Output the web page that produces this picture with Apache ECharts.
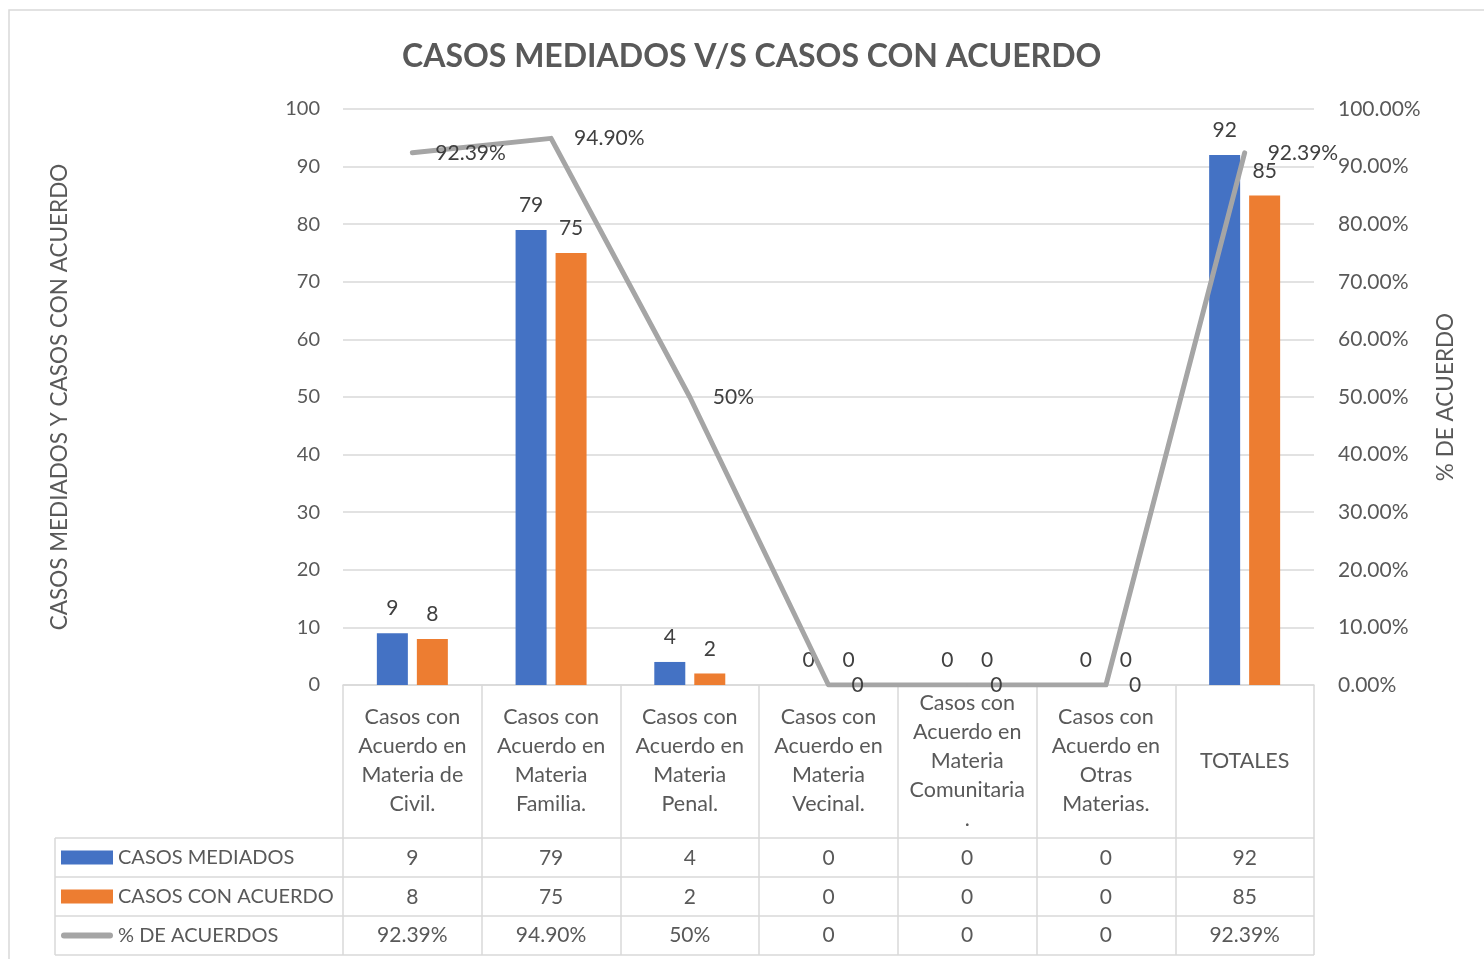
<!DOCTYPE html>
<html>
<head>
<meta charset="utf-8">
<script src="https://cdn.jsdelivr.net/npm/echarts@6/dist/echarts.min.js"></script>
<style>
  html, body { margin: 0; padding: 0; background: #fff; }
  #chart { width: 1484px; height: 959px; }
</style>
</head>
<body>
<div id="chart"></div>
<script>
const categories = [
  'Casos con\nAcuerdo en\nMateria de\nCivil.',
  'Casos con\nAcuerdo en\nMateria\nFamilia.',
  'Casos con\nAcuerdo en\nMateria\nPenal.',
  'Casos con\nAcuerdo en\nMateria\nVecinal.',
  'Casos con\nAcuerdo en\nMateria\nComunitaria\n.',
  'Casos con\nAcuerdo en\nOtras\nMaterias.',
  'TOTALES',
];
const casosMediados = [9, 79, 4, 0, 0, 0, 92];
const casosAcuerdo = [8, 75, 2, 0, 0, 0, 85];
const pctAcuerdos = [0.9239, 0.949, 0.5, 0, 0, 0, 0.9239];
const pctText = ['92.39%', '94.90%', '50%', '0', '0', '0', '92.39%'];

const FONT = 'Lato, "Open Sans", sans-serif';
const TEXT = '#595959';
const LABEL = '#404040';
const LINE = '#D9D9D9';

// layout of plot area + data table
const gridLeft = 343, gridRight = 1314, gridTop = 109, gridBottom = 685;
const tableLeft = 55;
const rowLines = [838, 877, 916, 955];

const chart = echarts.init(document.getElementById('chart'));

function rowAxis(values, centerY) {
  return {
    type: 'category',
    gridIndex: 0,
    position: 'bottom',
    offset: centerY - gridBottom,
    data: values.map(String),
    axisLine: { show: false },
    axisTick: { show: false },
    axisLabel: {
      interval: 0, margin: 0, verticalAlign: 'middle',
      fontFamily: FONT, fontSize: 21, color: TEXT,
    },
  };
}

const tableLines = rowLines.map((y) => ({
  type: 'line',
  shape: { x1: tableLeft, y1: y, x2: gridRight, y2: y },
  style: { stroke: LINE, lineWidth: 1.5 },
}));
tableLines.push({
  type: 'line',
  shape: { x1: tableLeft, y1: rowLines[0], x2: tableLeft, y2: rowLines[3] },
  style: { stroke: LINE, lineWidth: 1.5 },
});

chart.setOption({
  animation: false,
  textStyle: { fontFamily: FONT },
  title: {
    text: 'CASOS MEDIADOS V/S CASOS CON ACUERDO',
    left: 402,
    top: 41,
    padding: 0,
    textStyle: { fontFamily: FONT, fontSize: 32, fontWeight: 'bold', color: TEXT },
  },
  grid: {
    left: gridLeft,
    right: 1484 - gridRight,
    top: gridTop,
    bottom: 959 - gridBottom,
  },
  legend: {
    orient: 'vertical',
    left: 61,
    top: rowLines[0],
    padding: 0,
    itemGap: 0,
    itemWidth: 52,
    itemHeight: 14,
    selectedMode: false,
    textStyle: { fontFamily: FONT, fontSize: 20, color: TEXT, lineHeight: 39 },
    data: [
      { name: 'CASOS MEDIADOS', icon: 'rect' },
      { name: 'CASOS CON ACUERDO', icon: 'rect' },
      { name: '% DE ACUERDOS', icon: 'path://M3,0H49A3,3,0,0,1,49,6H3A3,3,0,0,1,3,0Z' },
    ],
  },
  xAxis: [
    {
      type: 'category',
      data: categories,
      axisLine: { show: true, lineStyle: { color: LINE, width: 1.5 } },
      axisTick: { show: true, length: rowLines[3] - gridBottom, lineStyle: { color: LINE, width: 1.5 } },
      axisLabel: {
        interval: 0, margin: 76, verticalAlign: 'middle', lineHeight: 29,
        fontFamily: FONT, fontSize: 21.5, color: TEXT,
      },
    },
    rowAxis(casosMediados, 858),
    rowAxis(casosAcuerdo, 897),
    rowAxis(pctText, 935),
  ],
  yAxis: [
    {
      type: 'value',
      min: 0, max: 100, interval: 10,
      name: 'CASOS MEDIADOS Y CASOS CON ACUERDO',
      nameLocation: 'middle',
      nameGap: 272,
      nameRotate: 90,
      nameTextStyle: { fontFamily: FONT, fontSize: 22.5, color: TEXT },
      axisLine: { show: false },
      axisTick: { show: false },
      axisLabel: { margin: 23, fontFamily: FONT, fontSize: 20, color: TEXT },
      splitLine: { lineStyle: { color: LINE, width: 1.5 } },
    },
    {
      type: 'value',
      min: 0, max: 1, interval: 0.1,
      position: 'right',
      name: '% DE ACUERDO',
      nameLocation: 'middle',
      nameGap: 120,
      nameRotate: 90,
      nameTextStyle: { fontFamily: FONT, fontSize: 22.5, color: TEXT },
      axisLine: { show: false },
      axisTick: { show: false },
      axisLabel: {
        margin: 24, fontFamily: FONT, fontSize: 21, color: TEXT,
        formatter: (v) => (v * 100).toFixed(2) + '%',
      },
      splitLine: { show: false },
    },
  ],
  series: [
    {
      name: 'CASOS MEDIADOS',
      type: 'bar',
      data: casosMediados,
      barWidth: 31,
      barGap: '29%',
      itemStyle: { color: '#4472C4' },
      label: { show: true, position: 'top', distance: 14, fontFamily: FONT, fontSize: 21, color: LABEL },
    },
    {
      name: 'CASOS CON ACUERDO',
      type: 'bar',
      data: casosAcuerdo,
      barWidth: 31,
      barGap: '29%',
      itemStyle: { color: '#ED7D31' },
      label: { show: true, position: 'top', distance: 14, fontFamily: FONT, fontSize: 21, color: LABEL },
    },
    {
      name: '% DE ACUERDOS',
      type: 'line',
      yAxisIndex: 1,
      data: pctAcuerdos,
      symbol: 'circle',
      symbolSize: 2,
      z: 5,
      lineStyle: { color: '#A5A5A5', width: 5, cap: 'round', join: 'round' },
      itemStyle: { color: '#A5A5A5' },
      label: {
        show: true, position: 'right', distance: 22,
        fontFamily: FONT, fontSize: 21, color: LABEL,
        formatter: (p) => pctText[p.dataIndex],
      },
    },
  ],
  graphic: [
    {
      type: 'rect',
      shape: { x: 9, y: 10, width: 1500, height: 1000 },
      style: { fill: 'none', stroke: LINE, lineWidth: 1.5 },
      silent: true,
    },
    ...tableLines,
  ],
});
</script>
</body>
</html>
